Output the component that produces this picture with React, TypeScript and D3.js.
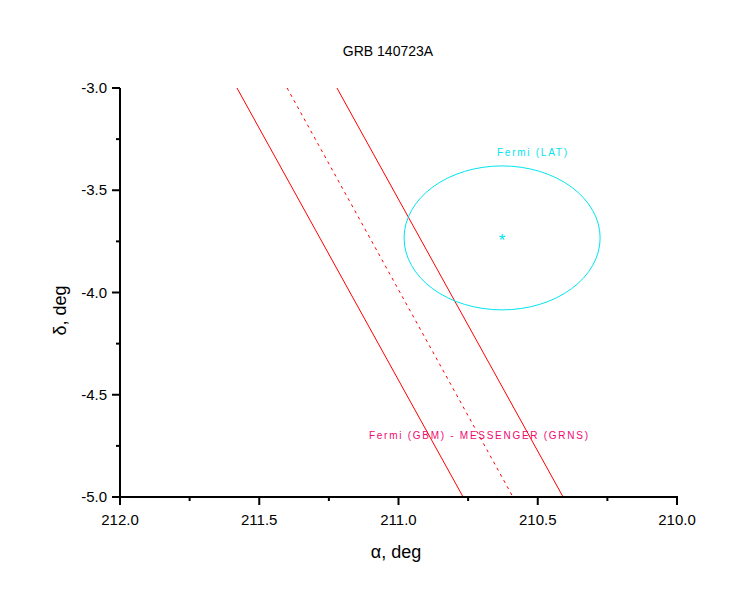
import { line, scaleLinear } from "d3";

const title = "GRB 140723A";
const xTicks = [212.0, 211.5, 211.0, 210.5, 210.0];
const yTicks = [-3.0, -3.5, -4.0, -4.5, -5.0];

// triangulation annulus: [alpha, delta] end points
const leftEdge: [number, number][] = [
  [211.58, -3.0],
  [210.768, -5.0],
];
const centerLine: [number, number][] = [
  [211.4, -3.0],
  [210.589, -5.0],
];
const rightEdge: [number, number][] = [
  [211.221, -3.0],
  [210.409, -5.0],
];

// LAT error circle
const latCenter = { ra: 210.628, dec: -3.733 };
const latRadius = 0.352;

const W = 741;
const H = 605;
const left = 120;
const right = 677;
const top = 88;
const bottom = 497;

export default function App() {
  const x = scaleLinear().domain([212, 210]).range([left, right]);
  const y = scaleLinear().domain([-3, -5]).range([top, bottom]);

  const ln = line<[number, number]>()
    .x((d) => x(d[0]))
    .y((d) => y(d[1]));

  const xMinor = xTicks.slice(0, -1).map((t) => t - 0.25);
  const yMinor = yTicks.slice(0, -1).map((t) => t - 0.25);

  const font = "Arial, 'Liberation Sans', sans-serif";

  return (
    <svg
      width={W}
      height={H}
      style={{ position: "absolute", left: 0, top: 0, background: "#fff" }}
      fontFamily={font}
    >
      <text x={388} y={56} textAnchor="middle" fontSize={14}>
        {title}
      </text>

      <defs>
        <clipPath id="plot">
          <rect x={left} y={top} width={right - left} height={bottom - top} />
        </clipPath>
      </defs>

      <g clipPath="url(#plot)" fill="none">
        <path d={ln(leftEdge)!} stroke="#ff0000" strokeWidth={1} />
        <path d={ln(centerLine)!} stroke="#ff0000" strokeWidth={1} strokeDasharray="3,4" />
        <path d={ln(rightEdge)!} stroke="#ff0000" strokeWidth={1} />
        <ellipse
          cx={x(latCenter.ra)}
          cy={y(latCenter.dec)}
          rx={Math.abs(x(latCenter.ra + latRadius) - x(latCenter.ra))}
          ry={Math.abs(y(latCenter.dec + latRadius) - y(latCenter.dec))}
          stroke="#00e5ee"
          strokeWidth={1}
        />
      </g>
      <text
        x={x(latCenter.ra)}
        y={y(latCenter.dec) + 8}
        textAnchor="middle"
        fontSize={17}
        fill="#00e5ee"
      >
        *
      </text>

      <text x={497} y={156} fontSize={10} fill="#00e5ee" textLength={70} lengthAdjust="spacing">
        Fermi (LAT)
      </text>
      <text x={369} y={439} fontSize={10} fill="#f00870" textLength={219} lengthAdjust="spacing">
        Fermi (GBM) - MESSENGER (GRNS)
      </text>

      {/* axes */}
      <line x1={left} x2={left} y1={top} y2={bottom + 1} stroke="#000" strokeWidth={2} />
      <line x1={left - 1} x2={right + 1} y1={bottom} y2={bottom} stroke="#000" strokeWidth={2} />

      {xTicks.map((t) => (
        <g key={"x" + t}>
          <line x1={x(t)} x2={x(t)} y1={bottom} y2={bottom + 8} stroke="#000" strokeWidth={2} />
          <text x={x(t)} y={bottom + 28} textAnchor="middle" fontSize={15}>
            {t.toFixed(1)}
          </text>
        </g>
      ))}
      {xMinor.map((t) => (
        <line key={"xm" + t} x1={x(t)} x2={x(t)} y1={bottom} y2={bottom + 4} stroke="#000" strokeWidth={2} />
      ))}

      {yTicks.map((t) => (
        <g key={"y" + t}>
          <line x1={left - 8} x2={left} y1={y(t)} y2={y(t)} stroke="#000" strokeWidth={2} />
          <text x={left - 13} y={y(t) + 5} textAnchor="end" fontSize={15}>
            {t.toFixed(1)}
          </text>
        </g>
      ))}
      {yMinor.map((t) => (
        <line key={"ym" + t} x1={left - 4} x2={left} y1={y(t)} y2={y(t)} stroke="#000" strokeWidth={2} />
      ))}

      <text x={396} y={558} textAnchor="middle" fontSize={18}>
        α, deg
      </text>
      <text
        transform={`translate(66, ${(top + bottom) / 2 + 18}) rotate(-90)`}
        textAnchor="middle"
        fontSize={18}
      >
        δ, deg
      </text>
    </svg>
  );
}
